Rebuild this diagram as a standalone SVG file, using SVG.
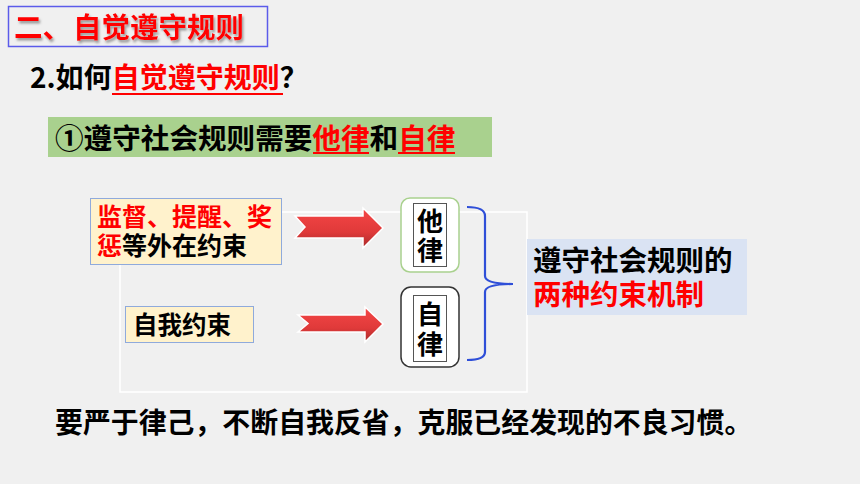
<svg xmlns="http://www.w3.org/2000/svg" width="860" height="484" viewBox="0 0 860 484">
<defs>
<linearGradient id="ag" x1="0" y1="0" x2="0" y2="1">
<stop offset="0" stop-color="#f54646"/>
<stop offset="0.6" stop-color="#e03a3a"/>
<stop offset="1" stop-color="#a82a2a"/>
</linearGradient>
<filter id="sh" x="-5%" y="-20%" width="110%" height="150%">
<feDropShadow dx="1.5" dy="2.5" stdDeviation="1" flood-color="#777" flood-opacity="0.7"/>
</filter>
</defs>
<style>
text{font-family:"Noto Sans CJK SC","Liberation Sans",sans-serif;font-weight:bold;fill:#000}
.r{fill:#ff0000}
.arrow{fill:url(#ag);stroke:#ffffff;stroke-width:1.5}
.frame{fill:none;stroke:#ffffff;stroke-width:1.5}
.ul{stroke:#ff0000;stroke-width:2}
.inner{fill:#ffffff;stroke:#555;stroke-width:1}
</style>
<rect width="860" height="484" fill="#f0f0f0"/>

<g id="title">
<rect x="8.5" y="6.5" width="259" height="40" fill="none" stroke="#5b5bea" stroke-width="1.5"/>
<text x="14" y="38" font-size="28.5" class="r" filter="url(#sh)">二、<tspan x="73">自觉遵守规则</tspan></text>
</g>

<g id="question">
<text x="30" y="88" font-size="28">2.如何<tspan class="r">自觉遵守规则</tspan>？</text>
<line class="ul" x1="112" y1="94" x2="283" y2="94"/>
</g>

<g id="banner">
<rect x="48" y="117" width="444" height="40" fill="#a9d18e"/>
<text x="55" y="149" font-size="28.6">①遵守社会规则需要<tspan class="r">他律</tspan>和<tspan class="r">自律</tspan></text>
<line class="ul" x1="313" y1="153" x2="369" y2="153"/>
<line class="ul" x1="398" y1="153" x2="455" y2="153"/>
</g>

<g id="connectors">
<path class="frame" d="M120,212 H527 V392 H120 Z"/>
<path class="arrow" d="M295,216 H363 V208 L383,228 L363,248 V238 H295 L305,227 Z"/>
<path class="arrow" d="M298,315 H365 V307 L383,324 L365,342 V332 H298 L308,323.5 Z"/>
<path d="M467,207 Q485,207 485,216 V276 Q485,284 513,284 Q485,284 485,292 V352 Q485,360 467,360" fill="none" stroke="#2f4fd8" stroke-width="2.2"/>
</g>

<g id="external">
<rect x="90.5" y="198.5" width="191" height="66" fill="#fff2cc" stroke="#8faadc" stroke-width="1"/>
<text x="97" y="226" font-size="25"><tspan class="r">监督、提醒、奖</tspan><tspan x="97" dy="29" class="r">惩</tspan><tspan>等外在约束</tspan></text>
</g>

<g id="self">
<rect x="125.5" y="306.5" width="128" height="36" fill="#fff2cc" stroke="#8faadc" stroke-width="1"/>
<text x="133" y="334" font-size="24.5">自我约束</text>
</g>

<g id="talu">
<rect x="401" y="198" width="58" height="74" rx="9" fill="#ffffff" stroke="#a9d18e" stroke-width="1.5"/>
<rect class="inner" x="413.5" y="203.5" width="33" height="63"/>
<text x="430" y="231" font-size="26" text-anchor="middle">他<tspan x="430" dy="29">律</tspan></text>
</g>

<g id="zilu">
<rect x="401" y="287" width="58" height="80" rx="10" fill="#ffffff" stroke="#333333" stroke-width="1.5"/>
<rect class="inner" x="413.5" y="295.5" width="33" height="66"/>
<text x="430" y="324" font-size="26" text-anchor="middle">自<tspan x="430" dy="30">律</tspan></text>
</g>

<g id="result">
<rect x="527" y="239" width="220" height="76" fill="#dae3f3"/>
<text x="533" y="271" font-size="28.5">遵守社会规则的<tspan x="533" dy="34" class="r">两种约束机制</tspan></text>
</g>

<g id="footer">
<text x="55" y="433" font-size="27.9">要严于律己，不断自我反省，克服已经发现的不良习惯。</text>
</g>
</svg>
